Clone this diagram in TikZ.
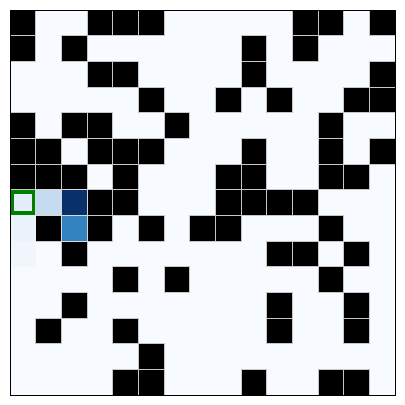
\documentclass[tikz,border=0pt]{standalone}
\definecolor{bg}{HTML}{F7FBFF}
\definecolor{cA}{HTML}{E3EEF8}
\definecolor{cB}{HTML}{C6DBEF}
\definecolor{cC}{HTML}{08306B}
\definecolor{cD}{HTML}{EAF2FB}
\definecolor{cE}{HTML}{3383BE}
\definecolor{cF}{HTML}{F1F6FC}
\definecolor{mplgreen}{HTML}{008000}
\begin{document}
\begin{tikzpicture}[x=25.667pt,y=-25.667pt,
  wall/.style={fill=black,draw=white!78!black,line width=0.6pt},
  shade/.style={draw=white!85!black,line width=0.4pt},
  marker/.style={draw=mplgreen,line width=3.3pt}]
\useasboundingbox[fill=white] (-0.3896,-0.3896) rectangle (15.3896,15.3896);
\fill[bg] (0,0) rectangle (15,15);
\foreach \r/\cols in {0/{0,3,4,5,11,12,14},1/{0,2,9,11},2/{3,4,9,14},3/{5,8,10,13,14},4/{0,2,3,6,12},5/{0,1,3,4,5,9,12,14},6/{0,1,2,4,8,9,12,13},7/{3,4,8,9,10,11},8/{1,3,5,7,8,12},9/{2,10,11,13},10/{4,6,12},11/{2,10,13},12/{1,4,10,13},13/{5},14/{4,5,9,12,13}}{
  \foreach \c in \cols {
    \filldraw[wall] (\c,\r) rectangle ++(1,1);
  }
}
\fill[cA] (0,7) rectangle ++(1,1);
\filldraw[shade,fill=cB] (1,7) rectangle ++(1,1);
\filldraw[shade,fill=cC] (2,7) rectangle ++(1,1);
\fill[cD] (0,8) rectangle ++(1,1);
\filldraw[shade,fill=cE] (2,8) rectangle ++(1,1);
\fill[cF] (0,9) rectangle ++(1,1);
\draw[marker] (0.09,7.09) rectangle (0.91,7.91);
\draw[black,line width=0.9pt] (0,0) rectangle (15,15);
\end{tikzpicture}
\end{document}
